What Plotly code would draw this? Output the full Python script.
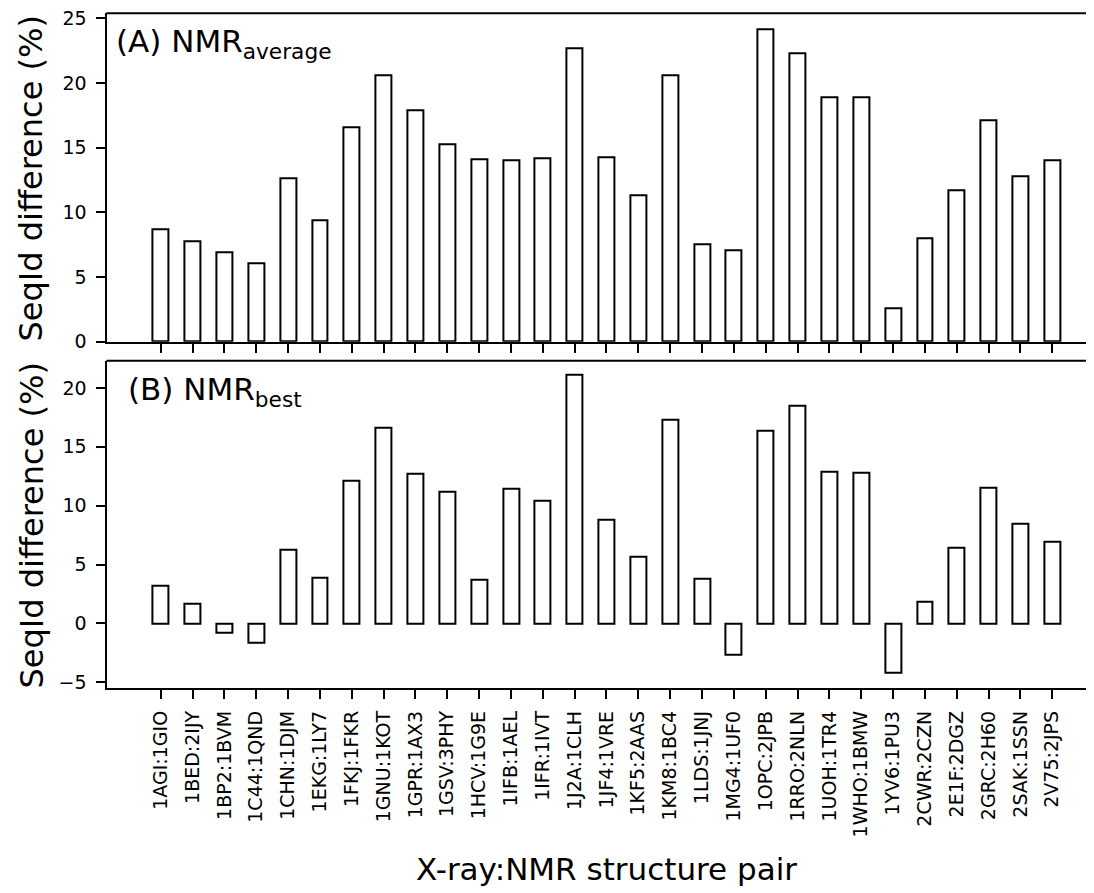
import plotly.graph_objects as go

pairs = ["1AGI:1GIO", "1BED:2IJY", "1BP2:1BVM", "1C44:1QND", "1CHN:1DJM", "1EKG:1LY7",
         "1FKJ:1FKR", "1GNU:1KOT", "1GPR:1AX3", "1GSV:3PHY", "1HCV:1G9E", "1IFB:1AEL",
         "1IFR:1IVT", "1J2A:1CLH", "1JF4:1VRE", "1KF5:2AAS", "1KM8:1BC4", "1LDS:1JNJ",
         "1MG4:1UF0", "1OPC:2JPB", "1RRO:2NLN", "1UOH:1TR4", "1WHO:1BMW", "1YV6:1PU3",
         "2CWR:2CZN", "2E1F:2DGZ", "2GRC:2H60", "2SAK:1SSN", "2V75:2JPS"]

nmr_average = [8.7, 7.8, 6.9, 6.1, 12.6, 9.4, 16.6, 20.6, 17.9, 15.3, 14.1, 14.0, 14.15,
               22.7, 14.3, 11.3, 20.6, 7.5, 7.1, 24.15, 22.3, 18.9, 18.9, 2.6, 8.0, 11.7,
               17.1, 12.8, 14.05]

nmr_best = [3.2, 1.65, -0.8, -1.65, 6.3, 3.85, 12.15, 16.6, 12.75, 11.15, 3.75, 11.45, 10.45,
            21.1, 8.85, 5.65, 17.3, 3.8, -2.65, 16.35, 18.5, 12.9, 12.8, -4.2, 1.8, 6.45,
            11.55, 8.45, 6.9]

W, H = 1094, 893
OFF = 8  # page body margin
FONT = "DejaVu Sans"


def px(x):
    return (x - OFF) / W


def py(y):
    return 1 - (y - OFF) / H


left = 107.4
right = 1094 + OFF
top_a, bot_a = 13.3, 341.7
top_b, bot_b = 360.7, 688.3
upp = 31.84  # pixels per category
x0 = -1.675
x1 = x0 + (right - left) / upp

idx = list(range(len(pairs)))

fig = go.Figure()
fig.add_trace(go.Bar(x=idx, y=nmr_average, width=0.5, xaxis="x", yaxis="y",
                     marker=dict(color="white", line=dict(color="black", width=2)),
                     showlegend=False))
fig.add_trace(go.Bar(x=idx, y=nmr_best, width=0.5, xaxis="x2", yaxis="y2",
                     marker=dict(color="white", line=dict(color="black", width=2)),
                     showlegend=False))

common_x = dict(range=[x0, x1], showline=True, linecolor="black", linewidth=2,
                ticks="outside", ticklen=9, tickwidth=2, tickcolor="black",
                tickmode="array", tickvals=idx, showgrid=False, zeroline=False,
                automargin=False, domain=[px(left), 1], ticklabeloverflow="allow")
common_y = dict(showline=True, linecolor="black", linewidth=2, ticks="outside",
                ticklen=9, tickwidth=2, tickcolor="black", showgrid=False,
                zeroline=False, automargin=False, tickmode="array",
                tickfont=dict(family=FONT, size=19, color="black"),
                ticklabelstandoff=6, ticklabeloverflow="allow")

fig.update_layout(
    width=W, height=H,
    margin=dict(l=0, r=0, t=0, b=0),
    paper_bgcolor="white", plot_bgcolor="white",
    font=dict(family=FONT, color="black"),
    bargap=0,
    xaxis=dict(**common_x, anchor="y", showticklabels=False),
    yaxis=dict(**common_y, anchor="x", range=[0, 25.4], tickvals=[0, 5, 10, 15, 20, 25],
               domain=[py(bot_a), py(top_a)]),
    xaxis2=dict(**common_x, anchor="y2", ticktext=pairs, tickangle=-90,
                tickfont=dict(family=FONT, size=19, color="black"),
                ticklabelstandoff=4),
    yaxis2=dict(**common_y, anchor="x2", range=[-5.52, 22.32],
                tickvals=[-5, 0, 5, 10, 15, 20],
                ticktext=["\u22125", "0", "5", "10", "15", "20"],
                domain=[py(bot_b), py(top_b)]),
)

# top spines
for ytop in (top_a, top_b):
    fig.add_shape(type="line", xref="paper", yref="paper", x0=px(left - 1), x1=1,
                  y0=py(ytop), y1=py(ytop), line=dict(color="black", width=2))

# panel labels
fig.add_annotation(x=px(114), y=py(44), xref="paper", yref="paper", xanchor="left",
                   yanchor="middle", showarrow=False,
                   text="(A) NMR<sub>average</sub>", font=dict(family=FONT, size=31, color="black"))
fig.add_annotation(x=px(126), y=py(392), xref="paper", yref="paper", xanchor="left",
                   yanchor="middle", showarrow=False,
                   text="(B) NMR<sub>best</sub>", font=dict(family=FONT, size=31, color="black"))

# axis titles
for yc in ((top_a + bot_a) / 2 + 1, (top_b + bot_b) / 2 + 1):
    fig.add_annotation(x=px(31), y=py(yc), xref="paper", yref="paper", xanchor="center",
                       yanchor="middle", showarrow=False, textangle=-90,
                       text="SeqId difference (%)", font=dict(family=FONT, size=32, color="black"))

fig.add_annotation(x=px(606.5), y=py(869), xref="paper", yref="paper", xanchor="center",
                   yanchor="middle", showarrow=False,
                   text="X-ray:NMR structure pair", font=dict(family=FONT, size=31, color="black"))

fig.write_html("out.html")
